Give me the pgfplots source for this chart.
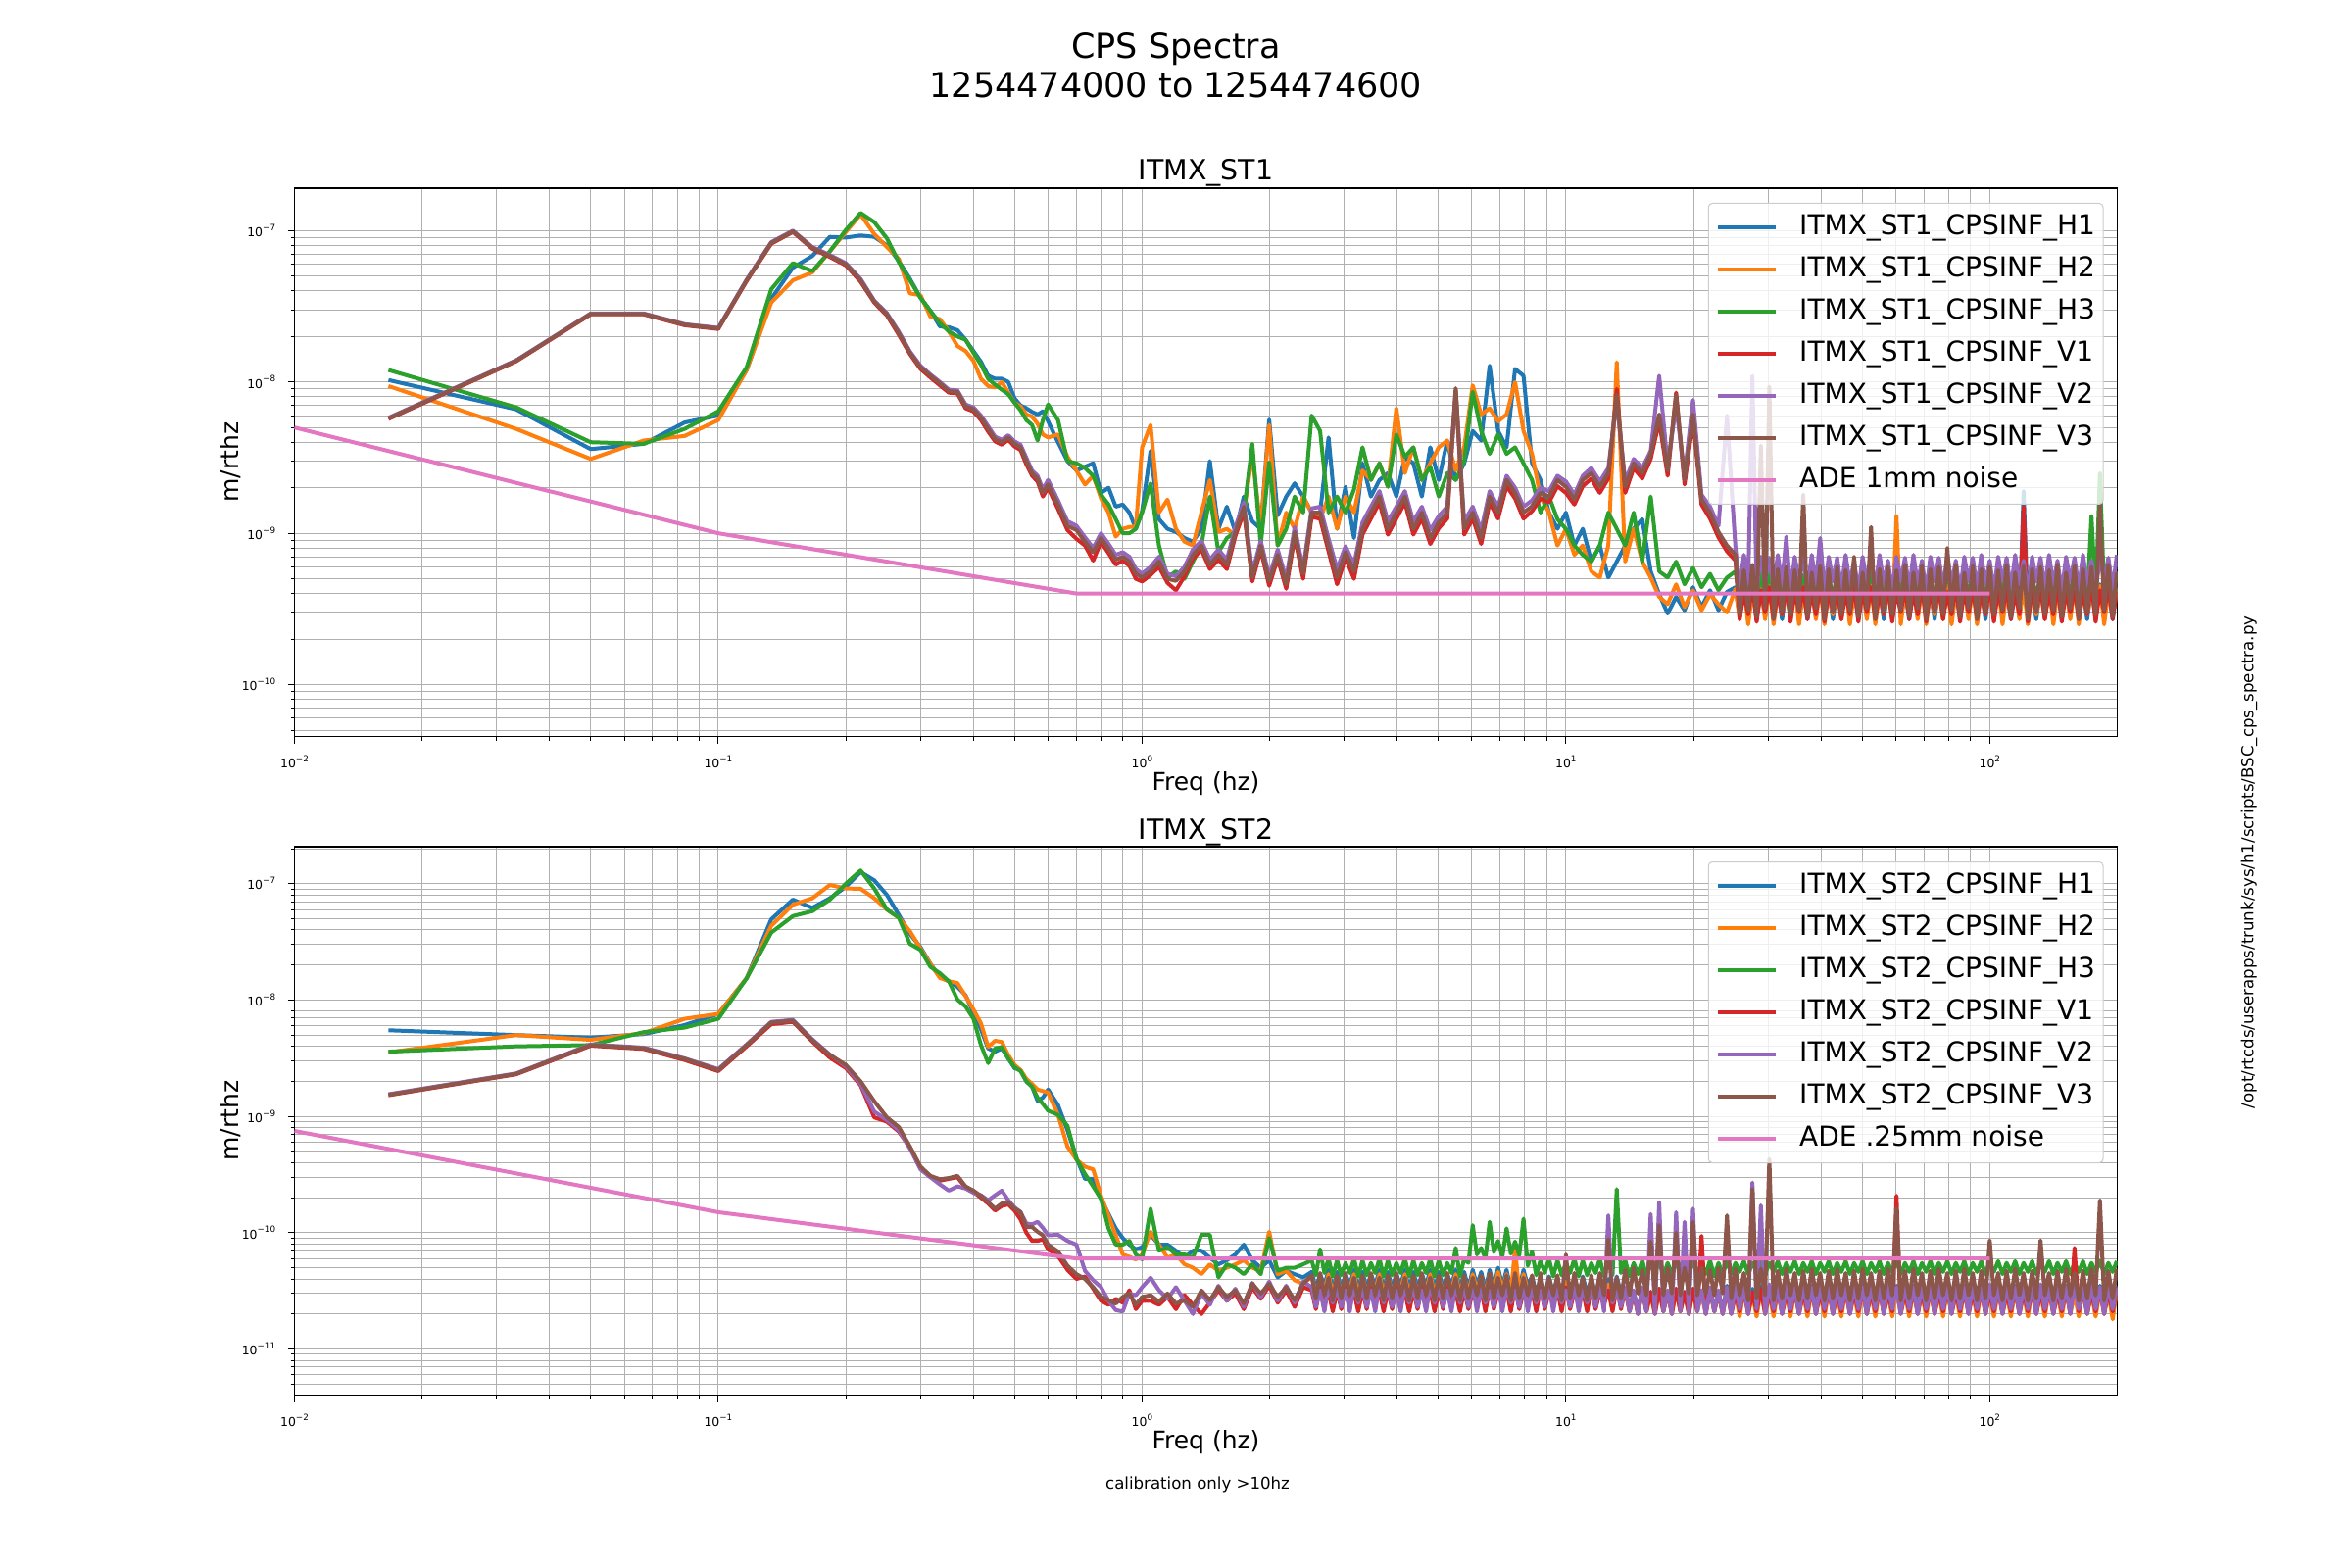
\documentclass[border=0pt]{standalone}
\usepackage{fontspec}
\setmainfont{DejaVu Sans}
\usepackage{pgfplots}
\usepackage{pgfplotstable}
\pgfplotsset{compat=1.18}
\definecolor{c0}{HTML}{1F77B4}
\definecolor{c1}{HTML}{FF7F0E}
\definecolor{c2}{HTML}{2CA02C}
\definecolor{c3}{HTML}{D62728}
\definecolor{c4}{HTML}{9467BD}
\definecolor{c5}{HTML}{8C564B}
\definecolor{c6}{HTML}{E377C2}
\definecolor{gridc}{HTML}{B0B0B0}
\newcommand\expo[1]{\raisebox{0.5em}{\fontsize{4.4bp}{5bp}\selectfont #1}}

\pgfplotstableread{
f h1 h2 h3 v1 v2 v3
0.016667 1.03e-8 9.4e-9 1.2e-8 5.7e-9 5.8e-9 5.75e-9
0.033333 6.6e-9 4.9e-9 6.8e-9 1.37e-8 1.39e-8 1.38e-8
0.05 3.6e-9 3.1e-9 4.0e-9 2.8e-8 2.84e-8 2.82e-8
0.066667 3.9e-9 4.1e-9 3.9e-9 2.8e-8 2.84e-8 2.82e-8
0.083333 5.4e-9 4.4e-9 4.9e-9 2.37e-8 2.41e-8 2.39e-8
0.1 6.0e-9 5.6e-9 6.4e-9 2.24e-8 2.28e-8 2.26e-8
0.116667 1.2e-8 1.2e-8 1.25e-8 4.65e-8 4.75e-8 4.7e-8
0.133333 3.55e-8 3.35e-8 4.1e-8 8.2e-8 8.4e-8 8.3e-8
0.15 5.7e-8 4.7e-8 6.1e-8 9.8e-8 1.0e-7 9.9e-8
0.166667 6.8e-8 5.3e-8 5.4e-8 7.6e-8 7.8e-8 7.7e-8
0.183333 9.1e-8 7.3e-8 7.3e-8 6.7e-8 6.9e-8 6.8e-8
0.2 9.0e-8 9.8e-8 1.01e-7 5.9e-8 6.1e-8 6.0e-8
0.216667 9.3e-8 1.28e-7 1.31e-7 4.6e-8 4.8e-8 4.7e-8
0.233333 9.1e-8 9.5e-8 1.14e-7 3.35e-8 3.45e-8 3.4e-8
0.25 8.0e-8 7.8e-8 8.9e-8 2.75e-8 2.85e-8 2.8e-8
0.266667 6.3e-8 6.5e-8 6.2e-8 2.05e-8 2.15e-8 2.1e-8
0.283333 4.8e-8 3.85e-8 4.7e-8 1.53e-8 1.59e-8 1.56e-8
0.3 3.6e-8 3.75e-8 3.6e-8 1.22e-8 1.28e-8 1.25e-8
0.316667 2.95e-8 2.7e-8 2.95e-8 1.07e-8 1.12e-8 1.1e-8
0.333333 2.33e-8 2.6e-8 2.45e-8 9.5e-9 1.0e-8 9.8e-9
0.35 2.3e-8 2.16e-8 2.16e-8 8.5e-9 8.9e-9 8.7e-9
0.366667 2.2e-8 1.73e-8 2.0e-8 8.4e-9 8.8e-9 8.6e-9
0.383333 1.9e-8 1.6e-8 1.9e-8 6.7e-9 7.1e-9 6.9e-9
0.4 1.6e-8 1.38e-8 1.56e-8 6.4e-9 6.8e-9 6.6e-9
0.416667 1.36e-8 1.05e-8 1.3e-8 5.6e-9 6.0e-9 5.8e-9
0.433333 1.1e-8 9.4e-9 1.05e-8 4.7e-9 5.1e-9 4.9e-9
0.45 1.05e-8 9.2e-9 9.6e-9 4.05e-9 4.35e-9 4.2e-9
0.466667 1.05e-8 1.0e-8 8.9e-9 3.85e-9 4.15e-9 4.0e-9
0.483333 1.0e-8 8.5e-9 8.3e-9 4.15e-9 4.45e-9 4.3e-9
0.5 7.8e-9 7.3e-9 7.3e-9 3.75e-9 4.05e-9 3.9e-9
0.516667 7.0e-9 6.9e-9 6.5e-9 3.55e-9 3.85e-9 3.7e-9
0.533333 6.7e-9 6.1e-9 5.6e-9 2.85e-9 3.15e-9 3.0e-9
0.55 6.35e-9 5.9e-9 5.2e-9 2.4e-9 2.6e-9 2.5e-9
0.566667 6.1e-9 5.3e-9 4.1e-9 2.2e-9 2.4e-9 2.3e-9
0.583333 6.4e-9 4.5e-9 5.6e-9 1.75e-9 1.95e-9 1.85e-9
0.6 5.5e-9 4.3e-9 7.1e-9 2.0e-9 2.25e-9 2.1e-9
0.633333 4.0e-9 4.5e-9 5.6e-9 1.45e-9 1.65e-9 1.55e-9
0.666667 3.0e-9 3.2e-9 3.0e-9 1.05e-9 1.2e-9 1.12e-9
0.7 2.6e-9 2.6e-9 2.9e-9 9.2e-10 1.12e-9 1.05e-9
0.733333 2.75e-9 2.1e-9 2.7e-9 8.3e-10 9.4e-10 8.8e-10
0.766667 2.9e-9 2.4e-9 2.4e-9 6.6e-10 8.0e-10 7.5e-10
0.8 1.85e-9 1.7e-9 1.8e-9 8.8e-10 1.0e-9 9.3e-10
0.833333 2.0e-9 1.37e-9 1.55e-9 7.4e-10 8.5e-10 7.9e-10
0.866667 1.5e-9 9.5e-10 1.24e-9 6.2e-10 7.2e-10 6.7e-10
0.9 1.55e-9 1.07e-9 1.0e-9 6.6e-10 7.5e-10 7.0e-10
0.933333 1.37e-9 1.1e-9 1.0e-9 6.1e-10 7.0e-10 6.5e-10
0.966667 1.07e-9 1.11e-9 1.07e-9 5.0e-10 5.8e-10 5.4e-10
1.0 1.4e-9 3.7e-9 1.37e-9 4.8e-10 5.4e-10 5.1e-10
1.047 3.5e-9 5.2e-9 2.14e-9 5.3e-10 6.0e-10 5.6e-10
1.096 1.24e-9 1.37e-9 8.3e-10 6.0e-10 7.0e-10 6.5e-10
1.148 1.07e-9 1.67e-9 5.1e-10 4.7e-10 5.4e-10 5.0e-10
1.202 1.02e-9 1.07e-9 5.6e-10 4.2e-10 5.2e-10 4.85e-10
1.259 9.3e-10 8.8e-10 5.0e-10 5.2e-10 6.0e-10 5.6e-10
1.318 8.8e-10 8.3e-10 6.5e-10 6.8e-10 7.8e-10 7.2e-10
1.380 1.07e-9 1.37e-9 8.3e-10 7.8e-10 8.9e-10 8.3e-10
1.445 3.0e-9 2.25e-9 1.75e-9 5.8e-10 6.7e-10 6.2e-10
1.514 1.07e-9 1.02e-9 7.5e-10 6.7e-10 7.8e-10 7.2e-10
1.585 1.5e-9 1.07e-9 9.3e-10 5.8e-10 6.7e-10 6.2e-10
1.660 1.02e-9 9.7e-10 1.02e-9 9.6e-10 1.1e-9 1.02e-9
1.738 1.75e-9 1.37e-9 1.37e-9 1.4e-9 1.6e-9 1.5e-9
1.820 1.2e-9 3.35e-9 3.9e-9 4.8e-10 5.5e-10 5.1e-10
1.905 1.07e-9 1.07e-9 8.3e-10 7.8e-10 8.9e-10 8.3e-10
1.995 5.65e-9 5.2e-9 2.95e-9 4.5e-10 5.2e-10 4.85e-10
2.089 1.31e-9 8.3e-10 8.3e-10 6.8e-10 7.8e-10 7.2e-10
2.188 1.75e-9 1.37e-9 1.07e-9 4.3e-10 5.0e-10 4.6e-10
2.291 2.14e-9 1.07e-9 1.75e-9 9.5e-10 1.1e-9 1.02e-9
2.399 1.75e-9 1.75e-9 1.37e-9 5.0e-10 5.8e-10 5.4e-10
2.512 1.37e-9 1.37e-9 6.0e-9 1.28e-9 1.46e-9 1.37e-9
2.630 1.37e-9 1.24e-9 4.75e-9 1.25e-9 1.5e-9 1.37e-9
2.754 4.3e-9 1.75e-9 1.37e-9 7.6e-10 9.2e-10 8.3e-10
2.884 1.07e-9 1.07e-9 1.75e-9 4.6e-10 5.8e-10 5.1e-10
3.020 2.03e-9 1.75e-9 1.37e-9 6.9e-10 8.2e-10 7.5e-10
3.162 9.3e-10 1.37e-9 1.95e-9 5.0e-10 6.2e-10 5.6e-10
3.311 2.9e-9 2.6e-9 3.7e-9 9.8e-10 1.18e-9 1.07e-9
3.467 1.75e-9 2.25e-9 2.25e-9 1.25e-9 1.5e-9 1.37e-9
3.631 2.25e-9 2.9e-9 2.9e-9 1.6e-9 1.9e-9 1.75e-9
3.802 2.5e-9 2.03e-9 2.03e-9 9.8e-10 1.2e-9 1.07e-9
3.981 1.75e-9 6.7e-9 4.5e-9 1.25e-9 1.5e-9 1.37e-9
4.169 3.2e-9 2.5e-9 3.2e-9 1.6e-9 1.9e-9 1.75e-9
4.365 2.9e-9 3.7e-9 3.7e-9 9.8e-10 1.2e-9 1.07e-9
4.571 1.75e-9 2.25e-9 2.25e-9 1.25e-9 1.5e-9 1.37e-9
4.786 3.7e-9 2.9e-9 2.75e-9 8.5e-10 1.05e-9 9.3e-10
5.012 2.25e-9 3.7e-9 1.75e-9 1.08e-9 1.3e-9 1.18e-9
5.248 4.1e-9 4.1e-9 2.5e-9 1.25e-9 1.5e-9 1.37e-9
5.495 2.25e-9 2.6e-9 2.25e-9 8.8e-9 8.5e-9 9.1e-9
5.754 2.9e-9 3.7e-9 3.0e-9 9.8e-10 1.2e-9 1.07e-9
6.026 4.75e-9 9.5e-9 8.6e-9 1.25e-9 1.5e-9 1.37e-9
6.310 4.1e-9 6.1e-9 4.75e-9 8.5e-10 1.05e-9 9.3e-10
6.607 1.28e-8 6.7e-9 3.35e-9 1.6e-9 1.9e-9 1.75e-9
6.918 4.75e-9 5.5e-9 4.5e-9 1.25e-9 1.5e-9 1.37e-9
7.244 3.7e-9 6.1e-9 3.35e-9 2.05e-9 2.4e-9 2.25e-9
7.586 1.22e-8 1.0e-8 3.7e-9 1.7e-9 2.0e-9 1.85e-9
7.943 1.1e-8 4.75e-9 2.9e-9 1.25e-9 1.5e-9 1.37e-9
8.318 2.9e-9 3.35e-9 2.25e-9 1.4e-9 1.65e-9 1.51e-9
8.710 2.25e-9 1.75e-9 1.37e-9 1.7e-9 2.0e-9 1.85e-9
9.120 1.37e-9 1.37e-9 1.75e-9 1.6e-9 1.9e-9 1.75e-9
9.550 1.07e-9 8.3e-10 1.24e-9 2.05e-9 2.4e-9 2.25e-9
10.00 1.37e-9 1.07e-9 1.07e-9 1.85e-9 2.2e-9 2.03e-9
10.47 8.3e-10 7.2e-10 8.3e-10 1.55e-9 1.8e-9 1.67e-9
10.96 1.07e-9 8.3e-10 7.2e-10 2.05e-9 2.4e-9 2.25e-9
11.48 6.5e-10 5.6e-10 6.5e-10 2.3e-9 2.7e-9 2.5e-9
12.02 8.3e-10 5.1e-10 8.3e-10 1.85e-9 2.2e-9 2.03e-9
12.59 5.1e-10 8.3e-10 1.37e-9 2.3e-9 2.7e-9 2.5e-9
13.18 6.5e-10 1.35e-8 1.07e-9 9.0e-9 7.5e-9 8.2e-9
13.80 8.3e-10 6.5e-10 8.3e-10 1.85e-9 2.2e-9 2.03e-9
14.45 1.07e-9 1.07e-9 1.37e-9 2.7e-9 3.1e-9 2.9e-9
15.14 1.24e-9 6.5e-10 6.5e-10 2.3e-9 2.7e-9 2.5e-9
15.85 5.6e-10 5.1e-10 1.75e-9 3.1e-9 3.5e-9 3.35e-9
16.60 3.95e-10 3.8e-10 5.6e-10 5.5e-9 1.1e-8 6.1e-9
17.38 2.95e-10 3.4e-10 5.1e-10 2.4e-9 2.8e-9 2.6e-9
18.20 3.8e-10 4.6e-10 6.5e-10 8.5e-9 7.0e-9 8.2e-9
19.05 3.1e-10 3.25e-10 4.6e-10 2.1e-9 2.4e-9 2.25e-9
19.95 4.4e-10 4.2e-10 5.9e-10 5.6e-9 7.6e-9 6.1e-9
20.89 3.25e-10 3.1e-10 4.4e-10 1.55e-9 1.8e-9 1.67e-9
21.88 4.2e-10 3.95e-10 5.4e-10 1.25e-9 1.5e-9 1.37e-9
22.91 3.1e-10 3.4e-10 4.2e-10 9.4e-10 1.12e-9 1.02e-9
23.99 4.1e-10 3.0e-10 5.1e-10 7.6e-10 6.0e-9 8.3e-10
25.12 4.4e-10 4.3e-10 5.6e-10 6.6e-10 8.0e-10 7.2e-10
25.70 2.8e-10 2.7e-10 3.7e-10 2.7e-10 4.3e-10 2.9e-10
26.30 4.6e-10 4.5e-10 5.9e-10 4.1e-10 7.2e-10 5.7e-10
26.92 3.0e-10 2.5e-10 4.0e-10 2.9e-10 4.6e-10 3.1e-10
27.54 4.2e-10 4.1e-10 5.3e-10 4.6e-10 1.1e-8 6.2e-10
28.18 2.7e-10 2.9e-10 3.6e-10 2.6e-10 4.1e-10 2.8e-10
28.84 4.4e-10 4.3e-10 5.6e-10 4.2e-10 7.0e-10 3.8e-9
29.51 2.8e-10 2.7e-10 3.7e-10 3.0e-10 4.8e-10 3.2e-10
30.20 4.6e-10 4.5e-10 5.9e-10 4.4e-10 6.9e-10 9.3e-9
30.90 3.0e-10 2.5e-10 4.0e-10 2.7e-10 4.3e-10 2.7e-10
31.62 4.2e-10 4.1e-10 5.3e-10 4.1e-10 7.2e-10 5.8e-10
32.36 2.7e-10 2.9e-10 3.6e-10 2.9e-10 4.6e-10 3.0e-10
33.11 4.4e-10 4.3e-10 5.6e-10 4.6e-10 9.5e-10 6.0e-10
33.88 2.8e-10 2.7e-10 3.7e-10 2.6e-10 4.1e-10 2.9e-10
34.67 4.6e-10 4.5e-10 5.9e-10 4.2e-10 7.0e-10 5.7e-10
35.48 3.0e-10 2.5e-10 4.0e-10 3.0e-10 4.8e-10 3.1e-10
36.31 4.2e-10 4.1e-10 5.3e-10 4.4e-10 6.9e-10 1.8e-9
37.15 2.7e-10 2.9e-10 3.6e-10 2.7e-10 4.3e-10 2.8e-10
38.02 4.4e-10 4.3e-10 5.6e-10 4.1e-10 7.2e-10 5.5e-10
38.90 2.8e-10 2.7e-10 3.7e-10 2.9e-10 4.6e-10 3.2e-10
39.81 4.6e-10 4.5e-10 5.9e-10 4.6e-10 9.3e-10 6.1e-10
40.74 3.0e-10 2.5e-10 4.0e-10 2.6e-10 4.1e-10 2.7e-10
41.69 4.2e-10 4.1e-10 5.3e-10 4.2e-10 7.0e-10 5.8e-10
42.66 2.7e-10 2.9e-10 3.6e-10 3.0e-10 4.8e-10 3.0e-10
43.65 4.4e-10 4.3e-10 5.6e-10 4.4e-10 6.9e-10 6.0e-10
44.67 2.8e-10 2.7e-10 3.7e-10 2.7e-10 4.3e-10 2.9e-10
45.71 4.6e-10 4.5e-10 5.9e-10 4.1e-10 7.2e-10 5.7e-10
46.77 3.0e-10 2.5e-10 4.0e-10 2.9e-10 4.6e-10 3.1e-10
47.86 4.2e-10 4.1e-10 5.3e-10 4.6e-10 6.6e-10 7.0e-10
48.98 2.7e-10 2.9e-10 3.6e-10 2.6e-10 4.1e-10 2.8e-10
50.12 4.4e-10 4.3e-10 5.6e-10 4.2e-10 7.0e-10 5.5e-10
51.29 2.8e-10 2.7e-10 3.7e-10 3.0e-10 4.8e-10 3.2e-10
52.48 4.6e-10 4.5e-10 5.9e-10 4.4e-10 6.9e-10 1.1e-9
53.70 3.0e-10 2.5e-10 4.0e-10 2.7e-10 4.3e-10 2.7e-10
54.95 4.2e-10 4.1e-10 5.3e-10 4.1e-10 7.2e-10 5.8e-10
56.23 2.7e-10 2.9e-10 3.6e-10 2.9e-10 4.6e-10 3.0e-10
57.54 4.4e-10 4.3e-10 5.6e-10 4.6e-10 6.6e-10 6.0e-10
58.88 2.8e-10 2.7e-10 3.7e-10 2.6e-10 4.1e-10 2.9e-10
60.26 4.6e-10 1.3e-9 5.9e-10 4.2e-10 7.0e-10 5.7e-10
61.66 3.0e-10 2.5e-10 4.0e-10 3.0e-10 4.8e-10 3.1e-10
63.10 4.2e-10 4.1e-10 5.3e-10 4.4e-10 6.9e-10 6.2e-10
64.57 2.7e-10 2.9e-10 3.6e-10 2.7e-10 4.3e-10 2.8e-10
66.07 4.4e-10 4.3e-10 5.6e-10 4.1e-10 7.2e-10 5.5e-10
67.61 2.8e-10 2.7e-10 3.7e-10 2.9e-10 4.6e-10 3.2e-10
69.18 4.6e-10 4.5e-10 5.9e-10 4.6e-10 6.6e-10 6.1e-10
70.79 3.0e-10 2.5e-10 4.0e-10 2.6e-10 4.1e-10 2.7e-10
72.44 4.2e-10 4.1e-10 5.3e-10 4.2e-10 7.0e-10 5.8e-10
74.13 2.7e-10 2.9e-10 3.6e-10 3.0e-10 4.8e-10 3.0e-10
75.86 4.4e-10 4.3e-10 5.6e-10 4.4e-10 6.9e-10 6.0e-10
77.62 2.8e-10 2.7e-10 3.7e-10 2.7e-10 4.3e-10 2.9e-10
79.43 4.6e-10 4.5e-10 5.9e-10 4.1e-10 7.2e-10 8.0e-10
81.28 3.0e-10 2.5e-10 4.0e-10 2.9e-10 4.6e-10 3.1e-10
83.18 4.2e-10 4.1e-10 5.3e-10 4.6e-10 6.6e-10 6.2e-10
85.11 2.7e-10 2.9e-10 3.6e-10 2.6e-10 4.1e-10 2.8e-10
87.10 4.4e-10 4.3e-10 5.6e-10 4.2e-10 7.0e-10 5.5e-10
89.13 2.8e-10 2.7e-10 3.7e-10 3.0e-10 4.8e-10 3.2e-10
91.20 4.6e-10 4.5e-10 5.9e-10 4.4e-10 6.9e-10 6.1e-10
93.33 3.0e-10 2.5e-10 4.0e-10 2.7e-10 4.3e-10 2.7e-10
95.50 4.2e-10 4.1e-10 5.3e-10 4.1e-10 7.2e-10 5.8e-10
97.72 2.7e-10 2.9e-10 3.6e-10 2.9e-10 4.6e-10 3.0e-10
100.0 4.4e-10 4.3e-10 5.6e-10 4.6e-10 6.6e-10 6.0e-10
102.3 2.8e-10 2.7e-10 3.7e-10 2.6e-10 4.1e-10 2.9e-10
104.7 4.6e-10 4.5e-10 5.9e-10 4.2e-10 7.0e-10 5.7e-10
107.2 3.0e-10 2.5e-10 4.0e-10 3.0e-10 4.8e-10 3.1e-10
109.6 4.2e-10 4.1e-10 5.3e-10 4.4e-10 6.9e-10 6.2e-10
112.2 2.7e-10 2.9e-10 3.6e-10 2.7e-10 4.3e-10 2.8e-10
114.8 4.4e-10 4.3e-10 5.6e-10 4.1e-10 7.2e-10 5.5e-10
117.5 2.8e-10 2.7e-10 3.7e-10 2.9e-10 4.6e-10 3.2e-10
120.2 1.9e-9 4.5e-10 5.9e-10 1.5e-9 6.6e-10 6.1e-10
123.0 3.0e-10 2.5e-10 4.0e-10 2.6e-10 4.1e-10 2.7e-10
125.9 4.2e-10 4.1e-10 5.3e-10 4.2e-10 7.0e-10 5.8e-10
128.8 2.7e-10 2.9e-10 3.6e-10 3.0e-10 4.8e-10 3.0e-10
131.8 4.4e-10 4.3e-10 5.6e-10 4.4e-10 6.9e-10 6.0e-10
134.9 2.8e-10 2.7e-10 3.7e-10 2.7e-10 4.3e-10 2.9e-10
138.0 4.6e-10 4.5e-10 5.9e-10 4.1e-10 7.2e-10 5.7e-10
141.3 3.0e-10 2.5e-10 4.0e-10 2.9e-10 4.6e-10 3.1e-10
144.5 4.2e-10 4.1e-10 5.3e-10 4.6e-10 6.6e-10 6.2e-10
147.9 2.7e-10 2.9e-10 3.6e-10 2.6e-10 4.1e-10 2.8e-10
151.4 4.4e-10 4.3e-10 5.6e-10 4.2e-10 7.0e-10 5.5e-10
154.9 2.8e-10 2.7e-10 3.7e-10 3.0e-10 4.8e-10 3.2e-10
158.5 4.6e-10 4.5e-10 5.9e-10 4.4e-10 6.9e-10 6.1e-10
162.2 3.0e-10 2.5e-10 4.0e-10 2.7e-10 4.3e-10 2.7e-10
166.0 4.2e-10 4.1e-10 5.3e-10 4.1e-10 7.2e-10 5.8e-10
169.8 2.7e-10 2.9e-10 3.6e-10 2.9e-10 4.6e-10 3.0e-10
173.8 4.4e-10 4.3e-10 1.3e-9 4.6e-10 6.6e-10 6.0e-10
177.8 2.8e-10 2.7e-10 3.7e-10 2.6e-10 4.1e-10 2.9e-10
182.0 4.6e-10 4.5e-10 2.5e-9 4.2e-10 7.0e-10 1.55e-9
186.2 3.0e-10 2.5e-10 4.0e-10 3.0e-10 4.8e-10 3.1e-10
190.5 4.2e-10 4.1e-10 5.3e-10 4.4e-10 6.9e-10 6.2e-10
195.0 2.7e-10 2.9e-10 3.6e-10 2.7e-10 4.3e-10 2.8e-10
199.5 4.4e-10 4.3e-10 5.6e-10 4.1e-10 7.2e-10 5.5e-10
}\tabA

\pgfplotstableread{
f h1 h2 h3 v1 v2 v3
0.016667 5.5e-9 3.55e-9 3.6e-9 1.52e-9 1.55e-9 1.53e-9
0.033333 5.0e-9 5.0e-9 4.0e-9 2.3e-9 2.34e-9 2.32e-9
0.05 4.75e-9 4.55e-9 4.1e-9 4.05e-9 4.15e-9 4.1e-9
0.066667 5.1e-9 5.2e-9 5.3e-9 3.8e-9 3.9e-9 3.85e-9
0.083333 6.1e-9 6.9e-9 5.8e-9 3.05e-9 3.15e-9 3.12e-9
0.1 7.6e-9 7.6e-9 6.9e-9 2.45e-9 2.55e-9 2.5e-9
0.116667 1.54e-8 1.54e-8 1.54e-8 4.0e-9 4.15e-9 4.1e-9
0.133333 4.94e-8 4.35e-8 3.8e-8 6.2e-9 6.5e-9 6.4e-9
0.15 7.3e-8 6.6e-8 5.27e-8 6.5e-9 6.75e-9 6.65e-9
0.166667 6.2e-8 7.5e-8 5.8e-8 4.4e-9 4.6e-9 4.5e-9
0.183333 7.5e-8 9.75e-8 7.3e-8 3.2e-9 3.4e-9 3.37e-9
0.2 9.4e-8 9.1e-8 1.0e-7 2.6e-9 2.7e-9 2.77e-9
0.216667 1.26e-7 9.05e-8 1.3e-7 1.85e-9 1.9e-9 2.0e-9
0.233333 1.07e-7 7.5e-8 9.1e-8 9.8e-10 1.1e-9 1.35e-9
0.25 8.0e-8 6.0e-8 6.0e-8 9.0e-10 9.3e-10 9.8e-10
0.266667 5.4e-8 5.1e-8 5.1e-8 7.4e-10 7.6e-10 8.1e-10
0.283333 3.7e-8 3.9e-8 3.04e-8 5.4e-10 5.3e-10 5.5e-10
0.3 2.85e-8 2.77e-8 2.7e-8 3.6e-10 3.5e-10 3.7e-10
0.316667 2.05e-8 2.05e-8 1.93e-8 3.0e-10 3.0e-10 3.08e-10
0.333333 1.59e-8 1.55e-8 1.7e-8 2.8e-10 2.6e-10 2.88e-10
0.35 1.45e-8 1.45e-8 1.45e-8 2.9e-10 2.3e-10 2.95e-10
0.366667 1.3e-8 1.4e-8 1.01e-8 3.0e-10 2.5e-10 3.08e-10
0.383333 1.1e-8 1.08e-8 8.8e-9 2.45e-10 2.4e-10 2.5e-10
0.4 7.8e-9 8.3e-9 6.9e-9 2.25e-10 2.2e-10 2.3e-10
0.416667 5.6e-9 6.3e-9 4.1e-9 2.0e-10 2.1e-10 2.07e-10
0.433333 3.84e-9 3.95e-9 2.87e-9 1.78e-10 1.9e-10 1.83e-10
0.45 3.6e-9 4.47e-9 3.84e-9 1.55e-10 2.1e-10 1.61e-10
0.466667 3.84e-9 4.36e-9 3.95e-9 1.7e-10 2.3e-10 1.78e-10
0.483333 3.15e-9 3.37e-9 3.15e-9 1.75e-10 1.9e-10 1.83e-10
0.5 2.6e-9 2.77e-9 2.65e-9 1.55e-10 1.65e-10 1.61e-10
0.516667 2.5e-9 2.5e-9 2.45e-9 1.3e-10 1.5e-10 1.51e-10
0.533333 2.0e-9 2.1e-9 2.0e-9 1.0e-10 1.2e-10 1.12e-10
0.55 1.8e-9 1.9e-9 1.8e-9 8.5e-11 1.18e-10 1.12e-10
0.566667 1.36e-9 1.7e-9 1.45e-9 8.5e-11 1.24e-10 1.02e-10
0.583333 1.45e-9 1.65e-9 1.28e-9 8.8e-11 1.1e-10 9.5e-11
0.6 1.7e-9 1.6e-9 1.12e-9 7.2e-11 9.5e-11 7.9e-11
0.633333 1.25e-9 1.03e-9 1.03e-9 6.3e-11 9.6e-11 6.9e-11
0.666667 7.6e-10 5.5e-10 8.3e-10 4.8e-11 8.5e-11 5.2e-11
0.7 4.4e-10 4.25e-10 4.3e-10 4.0e-11 7.9e-11 4.4e-11
0.733333 2.9e-10 3.7e-10 3.2e-10 4.2e-11 4.7e-11 4.0e-11
0.766667 2.9e-10 3.5e-10 2.5e-10 3.3e-11 3.9e-11 3.4e-11
0.8 1.95e-10 2.07e-10 1.95e-10 2.6e-11 3.4e-11 2.8e-11
0.833333 1.45e-10 1.4e-10 1.09e-10 2.4e-11 2.6e-11 2.63e-11
0.866667 1.09e-10 9.5e-11 7.9e-11 2.7e-11 2.16e-11 2.46e-11
0.9 9.0e-11 6.5e-11 7.9e-11 2.5e-11 2.1e-11 2.8e-11
0.933333 7.9e-11 6.2e-11 8.5e-11 3.2e-11 3.0e-11 3.0e-11
0.966667 7.2e-11 5.9e-11 6.5e-11 2.2e-11 2.9e-11 2.4e-11
1.0 7.5e-11 6.5e-11 5.9e-11 2.6e-11 3.4e-11 2.8e-11
1.047 9.6e-11 1.02e-10 1.61e-10 2.6e-11 4.1e-11 2.9e-11
1.096 7.9e-11 7.9e-11 7.0e-11 2.4e-11 3.2e-11 2.55e-11
1.148 7.9e-11 6.1e-11 7.5e-11 2.8e-11 2.7e-11 3.0e-11
1.202 7.0e-11 6.5e-11 6.5e-11 2.2e-11 3.4e-11 2.46e-11
1.259 6.1e-11 5.35e-11 6.5e-11 2.9e-11 2.6e-11 2.63e-11
1.318 7.0e-11 5.0e-11 6.1e-11 2.4e-11 2.0e-11 2.3e-11
1.380 7.0e-11 4.4e-11 9.6e-11 2.0e-11 3.0e-11 3.19e-11
1.445 6.1e-11 5.35e-11 9.6e-11 2.5e-11 2.4e-11 2.63e-11
1.514 5.35e-11 4.7e-11 4.13e-11 3.2e-11 3.5e-11 3.4e-11
1.585 5.8e-11 5.0e-11 5.35e-11 2.6e-11 2.6e-11 2.8e-11
1.660 6.5e-11 5.35e-11 5.0e-11 3.0e-11 3.3e-11 3.19e-11
1.738 7.9e-11 5.8e-11 4.4e-11 2.2e-11 2.3e-11 2.46e-11
1.820 5.8e-11 5.0e-11 5.35e-11 3.4e-11 3.7e-11 3.63e-11
1.905 5.0e-11 4.7e-11 4.4e-11 2.7e-11 2.8e-11 3.0e-11
1.995 5.8e-11 1.02e-10 9.0e-11 3.5e-11 3.8e-11 3.63e-11
2.089 4.13e-11 4.4e-11 4.7e-11 2.5e-11 2.6e-11 2.8e-11
2.188 4.7e-11 4.7e-11 5.0e-11 3.2e-11 3.5e-11 3.4e-11
2.291 4.4e-11 3.9e-11 5.0e-11 2.3e-11 2.5e-11 2.63e-11
2.399 4.13e-11 3.63e-11 5.35e-11 3.4e-11 3.8e-11 3.63e-11
2.512 4.6e-11 4.2e-11 5.8e-11 3.2e-11 3.4e-11 4.3e-11
2.570 3.3e-11 3.0e-11 4.3e-11 2.2e-11 2.3e-11 2.7e-11
2.630 4.4e-11 4.0e-11 7.2e-11 3.4e-11 3.2e-11 4.5e-11
2.692 3.5e-11 3.2e-11 4.5e-11 2.4e-11 2.1e-11 2.9e-11
2.754 4.8e-11 4.4e-11 6.0e-11 3.1e-11 3.6e-11 4.1e-11
2.818 3.2e-11 2.9e-11 4.2e-11 2.1e-11 2.5e-11 2.6e-11
2.884 4.6e-11 4.2e-11 5.8e-11 3.2e-11 3.4e-11 4.3e-11
2.951 3.3e-11 3.0e-11 4.3e-11 2.2e-11 2.3e-11 2.7e-11
3.020 4.4e-11 4.0e-11 5.5e-11 3.4e-11 3.2e-11 4.5e-11
3.090 3.5e-11 3.2e-11 4.5e-11 2.4e-11 2.1e-11 2.9e-11
3.162 4.8e-11 4.4e-11 6.0e-11 3.1e-11 3.6e-11 4.1e-11
3.236 3.2e-11 2.9e-11 4.2e-11 2.1e-11 2.5e-11 2.6e-11
3.311 4.6e-11 4.2e-11 5.8e-11 3.2e-11 3.4e-11 4.3e-11
3.388 3.3e-11 3.0e-11 4.3e-11 2.2e-11 2.3e-11 2.7e-11
3.467 4.4e-11 4.0e-11 5.5e-11 3.4e-11 3.2e-11 4.5e-11
3.548 3.5e-11 3.2e-11 4.5e-11 2.4e-11 2.1e-11 2.9e-11
3.631 4.8e-11 4.4e-11 6.0e-11 3.1e-11 3.6e-11 4.1e-11
3.715 3.2e-11 2.9e-11 4.2e-11 2.1e-11 2.5e-11 2.6e-11
3.802 4.6e-11 4.2e-11 5.8e-11 3.2e-11 3.4e-11 4.3e-11
3.890 3.3e-11 3.0e-11 4.3e-11 2.2e-11 2.3e-11 2.7e-11
3.981 4.4e-11 4.0e-11 5.5e-11 3.4e-11 3.2e-11 4.5e-11
4.074 3.5e-11 3.2e-11 4.5e-11 2.4e-11 2.1e-11 2.9e-11
4.169 4.8e-11 4.4e-11 6.0e-11 3.1e-11 3.6e-11 4.1e-11
4.266 3.2e-11 2.9e-11 4.2e-11 2.1e-11 2.5e-11 2.6e-11
4.365 4.6e-11 4.2e-11 5.8e-11 3.2e-11 3.4e-11 4.3e-11
4.467 3.3e-11 3.0e-11 4.3e-11 2.2e-11 2.3e-11 2.7e-11
4.571 4.4e-11 4.0e-11 5.5e-11 3.4e-11 3.2e-11 4.5e-11
4.677 3.5e-11 3.2e-11 4.5e-11 2.4e-11 2.1e-11 2.9e-11
4.786 4.8e-11 4.4e-11 6.0e-11 3.1e-11 3.6e-11 4.1e-11
4.898 3.2e-11 2.9e-11 4.2e-11 2.1e-11 2.5e-11 2.6e-11
5.012 4.6e-11 4.2e-11 5.8e-11 3.2e-11 3.4e-11 4.3e-11
5.129 3.3e-11 3.0e-11 4.3e-11 2.2e-11 2.3e-11 2.7e-11
5.248 4.4e-11 4.0e-11 5.5e-11 3.4e-11 3.2e-11 4.5e-11
5.370 3.5e-11 3.2e-11 4.5e-11 2.4e-11 2.1e-11 2.9e-11
5.495 4.8e-11 4.4e-11 7.4e-11 3.1e-11 3.6e-11 4.1e-11
5.623 3.2e-11 2.9e-11 4.2e-11 2.1e-11 2.5e-11 2.6e-11
5.754 4.6e-11 4.2e-11 6.0e-11 3.2e-11 3.4e-11 4.3e-11
5.888 3.3e-11 3.0e-11 5.5e-11 2.2e-11 2.3e-11 2.7e-11
6.026 4.8e-11 4.4e-11 1.16e-10 3.1e-11 3.6e-11 4.1e-11
6.166 3.5e-11 3.2e-11 6.5e-11 2.4e-11 2.1e-11 2.9e-11
6.310 4.6e-11 4.2e-11 7.4e-11 3.2e-11 3.4e-11 4.3e-11
6.457 3.2e-11 2.9e-11 6.0e-11 2.1e-11 2.5e-11 2.6e-11
6.607 4.8e-11 4.4e-11 1.24e-10 3.4e-11 3.2e-11 4.5e-11
6.761 3.3e-11 3.0e-11 6.8e-11 2.2e-11 2.3e-11 2.7e-11
6.918 5.0e-11 4.6e-11 8.5e-11 3.1e-11 3.6e-11 4.1e-11
7.079 3.5e-11 3.2e-11 6.2e-11 2.4e-11 2.1e-11 2.9e-11
7.244 4.8e-11 4.4e-11 1.09e-10 3.2e-11 3.4e-11 4.3e-11
7.413 3.2e-11 2.9e-11 6.6e-11 2.1e-11 2.5e-11 2.6e-11
7.586 5.2e-11 7.4e-11 8.4e-11 3.4e-11 3.2e-11 4.5e-11
7.762 3.3e-11 3.0e-11 6.4e-11 2.2e-11 2.3e-11 2.7e-11
7.943 4.8e-11 4.4e-11 1.32e-10 3.1e-11 3.6e-11 4.1e-11
8.128 3.5e-11 3.2e-11 5.2e-11 2.4e-11 2.1e-11 2.9e-11
8.318 4.2e-11 3.8e-11 6.9e-11 3.2e-11 3.4e-11 4.3e-11
8.511 3.0e-11 2.7e-11 4.3e-11 2.1e-11 2.5e-11 2.6e-11
8.710 4.0e-11 3.6e-11 5.8e-11 3.4e-11 3.2e-11 4.5e-11
8.913 2.8e-11 2.6e-11 4.5e-11 2.2e-11 2.3e-11 2.7e-11
9.120 4.2e-11 3.8e-11 6.0e-11 3.1e-11 3.6e-11 4.1e-11
9.333 3.0e-11 2.7e-11 4.2e-11 2.4e-11 2.1e-11 2.9e-11
9.550 4.0e-11 3.6e-11 5.8e-11 3.2e-11 3.4e-11 4.3e-11
9.772 2.8e-11 2.6e-11 4.3e-11 2.1e-11 2.5e-11 2.6e-11
10.00 4.2e-11 3.8e-11 5.5e-11 3.4e-11 3.2e-11 6.5e-11
10.23 3.0e-11 2.7e-11 4.5e-11 2.2e-11 2.3e-11 2.7e-11
10.47 4.0e-11 3.6e-11 6.0e-11 3.1e-11 3.6e-11 4.5e-11
10.72 2.8e-11 2.6e-11 4.2e-11 2.4e-11 2.1e-11 2.9e-11
10.96 4.2e-11 3.8e-11 5.8e-11 3.2e-11 3.4e-11 4.1e-11
11.22 3.0e-11 2.7e-11 4.3e-11 2.1e-11 2.5e-11 2.6e-11
11.48 4.0e-11 3.6e-11 5.5e-11 3.4e-11 3.2e-11 4.3e-11
11.75 2.8e-11 2.6e-11 4.5e-11 2.2e-11 2.3e-11 2.7e-11
12.02 4.2e-11 3.8e-11 6.0e-11 3.1e-11 3.6e-11 4.5e-11
12.30 3.0e-11 2.7e-11 4.2e-11 2.4e-11 2.1e-11 2.9e-11
12.59 4.0e-11 3.6e-11 5.8e-11 3.2e-11 1.41e-10 8.8e-11
12.88 2.8e-11 2.6e-11 4.3e-11 2.1e-11 2.5e-11 2.6e-11
13.18 4.2e-11 3.8e-11 2.37e-10 3.4e-11 3.2e-11 4.1e-11
13.49 3.0e-11 2.7e-11 4.5e-11 2.2e-11 2.3e-11 2.7e-11
13.80 3.3e-11 3.2e-11 5.8e-11 3.3e-11 3.4e-11 4.8e-11
14.13 2.2e-11 2.1e-11 4.2e-11 2.1e-11 2.1e-11 2.9e-11
14.45 3.1e-11 3.0e-11 5.5e-11 3.1e-11 3.2e-11 5.0e-11
14.79 2.1e-11 2.0e-11 4.4e-11 2.0e-11 2.0e-11 3.0e-11
15.14 3.3e-11 3.2e-11 5.8e-11 3.3e-11 3.4e-11 4.8e-11
15.49 2.2e-11 2.1e-11 4.2e-11 2.1e-11 2.1e-11 2.9e-11
15.85 3.1e-11 3.0e-11 5.5e-11 3.1e-11 1.45e-10 8.4e-11
16.22 2.1e-11 2.0e-11 4.4e-11 2.0e-11 2.0e-11 3.0e-11
16.60 3.3e-11 3.2e-11 5.8e-11 3.3e-11 1.83e-10 1.16e-10
16.98 2.2e-11 2.1e-11 4.2e-11 2.1e-11 2.1e-11 2.9e-11
17.38 3.1e-11 3.0e-11 5.5e-11 3.1e-11 3.2e-11 5.0e-11
17.78 2.1e-11 2.0e-11 4.4e-11 2.0e-11 2.0e-11 3.0e-11
18.20 3.3e-11 3.2e-11 5.8e-11 3.3e-11 1.5e-10 1.0e-10
18.62 2.2e-11 2.1e-11 4.2e-11 2.1e-11 2.1e-11 2.9e-11
19.05 3.1e-11 3.0e-11 5.5e-11 3.1e-11 1.24e-10 5.0e-11
19.50 2.1e-11 2.0e-11 4.4e-11 2.0e-11 2.0e-11 3.0e-11
19.95 3.3e-11 3.2e-11 5.8e-11 3.3e-11 1.61e-10 1.24e-10
20.42 2.2e-11 2.1e-11 4.2e-11 2.1e-11 2.1e-11 2.9e-11
20.89 3.1e-11 3.0e-11 5.5e-11 9.4e-11 3.2e-11 5.0e-11
21.38 2.1e-11 2.0e-11 4.4e-11 2.0e-11 2.0e-11 3.0e-11
21.88 3.3e-11 3.2e-11 5.8e-11 3.3e-11 3.4e-11 4.8e-11
22.39 2.2e-11 2.1e-11 4.2e-11 2.1e-11 2.1e-11 2.9e-11
22.91 3.1e-11 3.0e-11 5.5e-11 3.1e-11 3.2e-11 5.0e-11
23.44 2.1e-11 2.0e-11 4.4e-11 2.0e-11 2.0e-11 3.0e-11
23.99 3.5e-11 3.2e-11 5.7e-11 3.3e-11 3.4e-11 1.41e-10
24.55 2.2e-11 2.0e-11 4.4e-11 2.0e-11 2.0e-11 2.7e-11
25.12 3.3e-11 3.0e-11 5.5e-11 3.1e-11 3.6e-11 4.9e-11
25.70 2.3e-11 1.9e-11 4.6e-11 2.1e-11 2.2e-11 2.9e-11
26.30 3.5e-11 3.2e-11 5.7e-11 3.3e-11 3.4e-11 4.5e-11
26.92 2.2e-11 2.0e-11 4.4e-11 2.0e-11 2.0e-11 2.6e-11
27.54 3.3e-11 3.0e-11 5.5e-11 3.1e-11 2.7e-10 2.37e-10
28.18 2.3e-11 1.9e-11 4.6e-11 2.1e-11 2.2e-11 2.7e-11
28.84 3.5e-11 3.2e-11 5.7e-11 3.3e-11 1.72e-10 4.9e-11
29.51 2.2e-11 2.0e-11 4.4e-11 2.0e-11 2.0e-11 2.9e-11
30.20 3.3e-11 3.0e-11 5.5e-11 3.1e-11 3.6e-11 4.3e-10
30.90 2.3e-11 1.9e-11 4.6e-11 2.1e-11 2.2e-11 2.6e-11
31.62 3.5e-11 3.2e-11 5.7e-11 3.3e-11 3.4e-11 4.7e-11
32.36 2.2e-11 2.0e-11 4.4e-11 2.0e-11 2.0e-11 2.7e-11
33.11 3.3e-11 3.0e-11 5.5e-11 3.1e-11 3.6e-11 4.9e-11
33.88 2.3e-11 1.9e-11 4.6e-11 2.1e-11 2.2e-11 2.9e-11
34.67 3.5e-11 3.2e-11 5.7e-11 3.3e-11 3.4e-11 4.5e-11
35.48 2.2e-11 2.0e-11 4.4e-11 2.0e-11 2.0e-11 2.6e-11
36.31 3.3e-11 3.0e-11 5.5e-11 3.1e-11 3.6e-11 4.7e-11
37.15 2.3e-11 1.9e-11 4.6e-11 2.1e-11 2.2e-11 2.7e-11
38.02 3.5e-11 3.2e-11 5.7e-11 3.3e-11 3.4e-11 4.9e-11
38.90 2.2e-11 2.0e-11 4.4e-11 2.0e-11 2.0e-11 2.9e-11
39.81 3.3e-11 3.0e-11 5.5e-11 3.1e-11 3.6e-11 4.5e-11
40.74 2.3e-11 1.9e-11 4.6e-11 2.1e-11 2.2e-11 2.6e-11
41.69 3.5e-11 3.2e-11 5.7e-11 3.3e-11 3.4e-11 4.7e-11
42.66 2.2e-11 2.0e-11 4.4e-11 2.0e-11 2.0e-11 2.7e-11
43.65 3.3e-11 3.0e-11 5.5e-11 3.1e-11 3.6e-11 4.9e-11
44.67 2.3e-11 1.9e-11 4.6e-11 2.1e-11 2.2e-11 2.9e-11
45.71 3.5e-11 3.2e-11 5.7e-11 3.3e-11 3.4e-11 4.5e-11
46.77 2.2e-11 2.0e-11 4.4e-11 2.0e-11 2.0e-11 2.6e-11
47.86 3.3e-11 3.0e-11 5.5e-11 3.1e-11 3.6e-11 4.7e-11
48.98 2.3e-11 1.9e-11 4.6e-11 2.1e-11 2.2e-11 2.7e-11
50.12 3.5e-11 3.2e-11 5.7e-11 3.3e-11 3.4e-11 4.9e-11
51.29 2.2e-11 2.0e-11 4.4e-11 2.0e-11 2.0e-11 2.9e-11
52.48 3.3e-11 3.0e-11 5.5e-11 3.1e-11 3.6e-11 4.5e-11
53.70 2.3e-11 1.9e-11 4.6e-11 2.1e-11 2.2e-11 2.6e-11
54.95 3.5e-11 3.2e-11 5.7e-11 3.3e-11 3.4e-11 4.7e-11
56.23 2.2e-11 2.0e-11 4.4e-11 2.0e-11 2.0e-11 2.7e-11
57.54 3.3e-11 3.0e-11 5.5e-11 3.1e-11 3.6e-11 4.9e-11
58.88 2.3e-11 1.9e-11 4.6e-11 2.1e-11 2.2e-11 2.9e-11
60.26 3.5e-11 3.2e-11 5.7e-11 2.08e-10 3.4e-11 1.61e-10
61.66 2.2e-11 2.0e-11 4.4e-11 2.0e-11 2.0e-11 2.6e-11
63.10 3.3e-11 3.0e-11 5.5e-11 3.1e-11 3.6e-11 4.7e-11
64.57 2.3e-11 1.9e-11 4.6e-11 2.1e-11 2.2e-11 2.7e-11
66.07 3.5e-11 3.2e-11 5.7e-11 3.3e-11 3.4e-11 4.9e-11
67.61 2.2e-11 2.0e-11 4.4e-11 2.0e-11 2.0e-11 2.9e-11
69.18 3.3e-11 3.0e-11 5.5e-11 3.1e-11 3.6e-11 4.5e-11
70.79 2.3e-11 1.9e-11 4.6e-11 2.1e-11 2.2e-11 2.6e-11
72.44 3.5e-11 3.2e-11 5.7e-11 3.3e-11 3.4e-11 4.7e-11
74.13 2.2e-11 2.0e-11 4.4e-11 2.0e-11 2.0e-11 2.7e-11
75.86 3.3e-11 3.0e-11 5.5e-11 3.1e-11 3.6e-11 4.9e-11
77.62 2.3e-11 1.9e-11 4.6e-11 2.1e-11 2.2e-11 2.9e-11
79.43 3.5e-11 3.2e-11 5.7e-11 3.3e-11 3.4e-11 4.5e-11
81.28 2.2e-11 2.0e-11 4.4e-11 2.0e-11 2.0e-11 2.6e-11
83.18 3.3e-11 3.0e-11 5.5e-11 3.1e-11 3.6e-11 4.7e-11
85.11 2.3e-11 1.9e-11 4.6e-11 2.1e-11 2.2e-11 2.7e-11
87.10 3.5e-11 3.2e-11 5.7e-11 3.3e-11 3.4e-11 4.9e-11
89.13 2.2e-11 2.0e-11 4.4e-11 2.0e-11 2.0e-11 2.9e-11
91.20 3.3e-11 3.0e-11 5.5e-11 3.1e-11 3.6e-11 4.5e-11
93.33 2.3e-11 1.9e-11 4.6e-11 2.1e-11 2.2e-11 2.6e-11
95.50 3.5e-11 3.2e-11 5.7e-11 3.3e-11 3.4e-11 4.7e-11
97.72 2.2e-11 2.0e-11 4.4e-11 2.0e-11 2.0e-11 2.7e-11
100.0 3.3e-11 3.0e-11 5.5e-11 3.1e-11 3.6e-11 8.6e-11
102.3 2.3e-11 1.9e-11 4.6e-11 2.1e-11 2.2e-11 2.9e-11
104.7 3.5e-11 3.2e-11 5.7e-11 3.3e-11 3.4e-11 4.5e-11
107.2 2.2e-11 2.0e-11 4.4e-11 2.0e-11 2.0e-11 2.6e-11
109.6 3.3e-11 3.0e-11 5.5e-11 3.1e-11 3.6e-11 4.7e-11
112.2 2.3e-11 1.9e-11 4.6e-11 2.1e-11 2.2e-11 2.7e-11
114.8 3.5e-11 3.2e-11 5.7e-11 3.3e-11 3.4e-11 4.9e-11
117.5 2.2e-11 2.0e-11 4.4e-11 2.0e-11 2.0e-11 2.9e-11
120.2 3.3e-11 3.0e-11 5.5e-11 3.1e-11 3.6e-11 4.5e-11
123.0 2.3e-11 1.9e-11 4.6e-11 2.1e-11 2.2e-11 2.6e-11
125.9 3.5e-11 3.2e-11 5.7e-11 3.3e-11 3.4e-11 4.7e-11
128.8 2.2e-11 2.0e-11 4.4e-11 2.0e-11 2.0e-11 2.7e-11
131.8 3.3e-11 3.0e-11 5.5e-11 3.1e-11 3.6e-11 8.6e-11
134.9 2.3e-11 1.9e-11 4.6e-11 2.1e-11 2.2e-11 2.9e-11
138.0 3.5e-11 3.2e-11 5.7e-11 3.3e-11 3.4e-11 4.5e-11
141.3 2.2e-11 2.0e-11 4.4e-11 2.0e-11 2.0e-11 2.6e-11
144.5 3.3e-11 3.0e-11 5.5e-11 3.1e-11 3.6e-11 4.7e-11
147.9 2.3e-11 1.9e-11 4.6e-11 2.1e-11 2.2e-11 2.7e-11
151.4 3.5e-11 3.2e-11 5.7e-11 3.3e-11 3.4e-11 4.9e-11
154.9 2.2e-11 2.0e-11 4.4e-11 2.0e-11 2.0e-11 2.9e-11
158.5 3.3e-11 3.0e-11 5.5e-11 7.4e-11 3.6e-11 4.5e-11
162.2 2.3e-11 1.9e-11 4.6e-11 2.1e-11 2.2e-11 2.6e-11
166.0 3.5e-11 3.2e-11 5.7e-11 3.3e-11 3.4e-11 4.7e-11
169.8 2.2e-11 2.0e-11 4.4e-11 2.0e-11 2.0e-11 2.7e-11
173.8 3.3e-11 3.0e-11 5.5e-11 3.1e-11 3.6e-11 4.9e-11
177.8 2.3e-11 1.9e-11 4.6e-11 2.1e-11 2.2e-11 2.9e-11
182.0 3.5e-11 3.2e-11 5.7e-11 3.3e-11 3.4e-11 1.9e-10
186.2 2.2e-11 2.0e-11 4.4e-11 2.0e-11 2.0e-11 2.6e-11
190.5 3.3e-11 3.0e-11 5.5e-11 3.1e-11 3.6e-11 4.7e-11
195.0 2.3e-11 1.8e-11 4.6e-11 2.1e-11 2.2e-11 2.7e-11
199.5 3.5e-11 3.2e-11 5.7e-11 3.3e-11 3.4e-11 4.9e-11
}\tabB

\pgfplotsset{
  legend image code/.code={\draw[#1, line width=2bp] (0bp,0bp) -- (29.5bp,0bp);},
  every axis title/.style={at={(axis description cs:0.5,1.0143)}, anchor=base, font=\fontsize{14.2bp}{17bp}\selectfont},
  every axis x label/.style={at={(axis description cs:0.5,-0.0974)}, anchor=base, font=\fontsize{12.5bp}{15bp}\selectfont},
  every axis y label/.style={at={(axis description cs:-0.0304,0.5)}, rotate=90, anchor=base, font=\fontsize{12.5bp}{15bp}\selectfont},
}

\begin{document}
\begin{tikzpicture}
\path[use as bounding box] (0,0) rectangle (1200bp,800bp);
\node[anchor=base, font=\fontsize{17.5bp}{21bp}\selectfont] at (600bp,770.35bp) {CPS Spectra};
\node[anchor=base, font=\fontsize{17.5bp}{21bp}\selectfont] at (600bp,750.35bp) {1254474000 to 1254474600};

\begin{axis}[at={(150.25bp,424.25bp)}, anchor=south west,
    xmode=log, ymode=log,
    scale only axis, width=930bp, height=279.75bp,
    xmin=0.01, xmax=200,
    xtick={0.01,0.1,1,10,100},
    xticklabels={10\expo{−2},10\expo{−1},10\expo{0},10\expo{1},10\expo{2}},
    minor xtick={0.02,0.03,0.04,0.05,0.06,0.07,0.08,0.09,0.2,0.3,0.4,0.5,0.6,0.7,0.8,0.9,2,3,4,5,6,7,8,9,20,30,40,50,60,70,80,90},
    grid=both,
    major grid style={gridc, line width=0.5bp},
    minor grid style={gridc, line width=0.5bp},
    axis line style={black, line width=0.6bp},
    tick style={black, line width=0.5bp},
    major tick length=3.5bp, minor tick length=2bp,
    tick align=outside, tick pos=left,
    tick label style={font=\fontsize{6.2bp}{7bp}\selectfont, inner sep=0pt},
    xticklabel style={anchor=north, yshift=-6bp},
    yticklabel style={anchor=east, xshift=-6bp},
    xlabel={Freq (hz)}, ylabel={m/rthz},
    every axis plot/.append style={line width=2bp, line join=round},
    legend cell align=left,
    legend style={at={(axis description cs:0.99247,0.97319)}, anchor=north east,
      draw=black!20, line width=0.5bp, rounded corners=2bp, fill=white, fill opacity=0.8,
      draw opacity=1, text opacity=1,
      font=\fontsize{14bp}{17bp}\selectfont,
      inner xsep=4bp, inner ysep=5.5bp, row sep=8bp, column sep=11bp,
      nodes={inner sep=0pt, text height=10.5bp, text depth=3bp}},
  ymin=4.54e-11, ymax=1.91e-7,
  ytick={1e-10,1e-9,1e-8,1e-7},
  yticklabels={10\expo{−10},10\expo{−9},10\expo{−8},10\expo{−7}},
  minor ytick={5e-11,6e-11,7e-11,8e-11,9e-11,2e-10,3e-10,4e-10,5e-10,6e-10,7e-10,8e-10,9e-10,2e-9,3e-9,4e-9,5e-9,6e-9,7e-9,8e-9,9e-9,2e-8,3e-8,4e-8,5e-8,6e-8,7e-8,8e-8,9e-8},
  title={ITMX\_ST1}]
\addplot[c0] table[x=f,y=h1]{\tabA}; \addlegendentry{ITMX\_ST1\_CPSINF\_H1}
\addplot[c1] table[x=f,y=h2]{\tabA}; \addlegendentry{ITMX\_ST1\_CPSINF\_H2}
\addplot[c2] table[x=f,y=h3]{\tabA}; \addlegendentry{ITMX\_ST1\_CPSINF\_H3}
\addplot[c3] table[x=f,y=v1]{\tabA}; \addlegendentry{ITMX\_ST1\_CPSINF\_V1}
\addplot[c4] table[x=f,y=v2]{\tabA}; \addlegendentry{ITMX\_ST1\_CPSINF\_V2}
\addplot[c5] table[x=f,y=v3]{\tabA}; \addlegendentry{ITMX\_ST1\_CPSINF\_V3}
\addplot[c6] coordinates {(0.01,5e-9) (0.1,1e-9) (0.7,4e-10) (100,4e-10)}; \addlegendentry{ADE 1mm noise}
\end{axis}

\begin{axis}[at={(150.25bp,88.25bp)}, anchor=south west,
    xmode=log, ymode=log,
    scale only axis, width=930bp, height=279.75bp,
    xmin=0.01, xmax=200,
    xtick={0.01,0.1,1,10,100},
    xticklabels={10\expo{−2},10\expo{−1},10\expo{0},10\expo{1},10\expo{2}},
    minor xtick={0.02,0.03,0.04,0.05,0.06,0.07,0.08,0.09,0.2,0.3,0.4,0.5,0.6,0.7,0.8,0.9,2,3,4,5,6,7,8,9,20,30,40,50,60,70,80,90},
    grid=both,
    major grid style={gridc, line width=0.5bp},
    minor grid style={gridc, line width=0.5bp},
    axis line style={black, line width=0.6bp},
    tick style={black, line width=0.5bp},
    major tick length=3.5bp, minor tick length=2bp,
    tick align=outside, tick pos=left,
    tick label style={font=\fontsize{6.2bp}{7bp}\selectfont, inner sep=0pt},
    xticklabel style={anchor=north, yshift=-6bp},
    yticklabel style={anchor=east, xshift=-6bp},
    xlabel={Freq (hz)}, ylabel={m/rthz},
    every axis plot/.append style={line width=2bp, line join=round},
    legend cell align=left,
    legend style={at={(axis description cs:0.99247,0.97319)}, anchor=north east,
      draw=black!20, line width=0.5bp, rounded corners=2bp, fill=white, fill opacity=0.8,
      draw opacity=1, text opacity=1,
      font=\fontsize{14bp}{17bp}\selectfont,
      inner xsep=4bp, inner ysep=5.5bp, row sep=8bp, column sep=11bp,
      nodes={inner sep=0pt, text height=10.5bp, text depth=3bp}},
  ymin=4.02e-12, ymax=2.08e-7,
  ytick={1e-11,1e-10,1e-9,1e-8,1e-7},
  yticklabels={10\expo{−11},10\expo{−10},10\expo{−9},10\expo{−8},10\expo{−7}},
  minor ytick={5e-12,6e-12,7e-12,8e-12,9e-12,2e-11,3e-11,4e-11,5e-11,6e-11,7e-11,8e-11,9e-11,2e-10,3e-10,4e-10,5e-10,6e-10,7e-10,8e-10,9e-10,2e-9,3e-9,4e-9,5e-9,6e-9,7e-9,8e-9,9e-9,2e-8,3e-8,4e-8,5e-8,6e-8,7e-8,8e-8,9e-8,2e-7},
  title={ITMX\_ST2}]
\addplot[c0] table[x=f,y=h1]{\tabB}; \addlegendentry{ITMX\_ST2\_CPSINF\_H1}
\addplot[c1] table[x=f,y=h2]{\tabB}; \addlegendentry{ITMX\_ST2\_CPSINF\_H2}
\addplot[c2] table[x=f,y=h3]{\tabB}; \addlegendentry{ITMX\_ST2\_CPSINF\_H3}
\addplot[c3] table[x=f,y=v1]{\tabB}; \addlegendentry{ITMX\_ST2\_CPSINF\_V1}
\addplot[c4] table[x=f,y=v2]{\tabB}; \addlegendentry{ITMX\_ST2\_CPSINF\_V2}
\addplot[c5] table[x=f,y=v3]{\tabB}; \addlegendentry{ITMX\_ST2\_CPSINF\_V3}
\addplot[c6] coordinates {(0.01,7.5e-10) (0.1,1.5e-10) (0.7,6e-11) (100,6e-11)}; \addlegendentry{ADE .25mm noise}
\end{axis}

\node[rotate=90, font=\fontsize{8.3bp}{10bp}\selectfont] at (1147.5bp,360bp) {/opt/rtcds/userapps/trunk/sys/h1/scripts/BSC\_cps\_spectra.py};
\node[anchor=base, font=\fontsize{8.3bp}{10bp}\selectfont] at (611bp,40bp) {calibration only >10hz};
\end{tikzpicture}
\end{document}
